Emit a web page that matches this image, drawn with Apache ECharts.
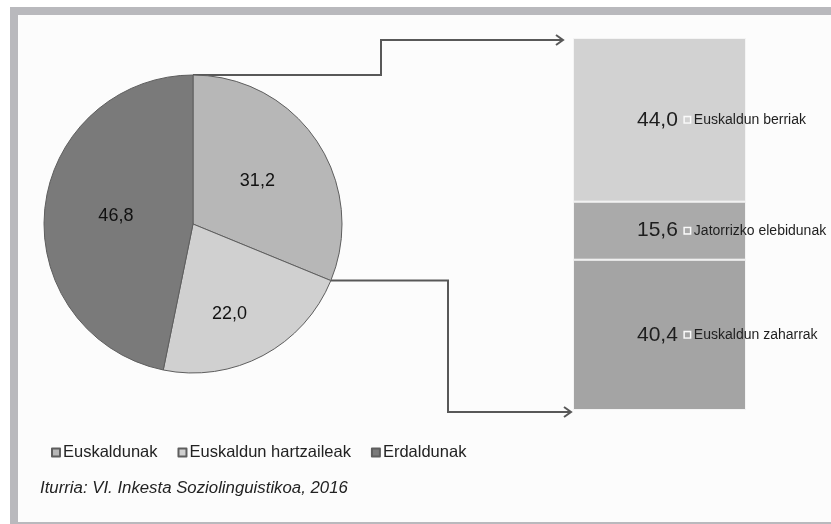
<!DOCTYPE html>
<html>
<head>
<meta charset="utf-8">
<script src="https://cdn.jsdelivr.net/npm/echarts@6/dist/echarts.min.js"></script>
<style>
  html, body { margin: 0; padding: 0; background: #fff; }
  #chart { width: 831px; height: 524px; }
</style>
</head>
<body>
<div id="chart"></div>
<script>
// pie: whole population
const pieNames = ['Euskaldunak', 'Euskaldun hartzaileak', 'Erdaldunak']
const pieValues = [31.2, 22.0, 46.8]
const pieColors = ['#b7b7b7', '#d0d0d0', '#7a7a7a']

// bar: breakdown of the Euskaldunak slice (bottom to top)
const barNames = ['Euskaldun zaharrak', 'Jatorrizko elebidunak', 'Euskaldun berriak']
const barValues = [40.4, 15.6, 44.0]
const barColors = ['#a4a4a4', '#aaaaaa', '#d2d2d2']

const sourceText = 'Iturria: VI. Inkesta Soziolinguistikoa, 2016'

const fmt = v => v.toFixed(1).replace('.', ',')
const FONT = '"Liberation Sans", Arial, sans-serif'

const cx = 193, cy = 224, r = 149
// point on the pie rim after a given share (clockwise from the top)
const rim = share => {
  const a = share / 100 * Math.PI * 2
  return [cx + r * Math.sin(a), cy - r * Math.cos(a)]
}
const topPt = rim(0)
const lowPt = rim(pieValues[0])

const lineStyle = { stroke: '#585858', lineWidth: 2, fill: null }
const arrow = (x, y) => ({
  type: 'polyline',
  shape: { points: [[x - 7, y - 5], [x, y], [x - 7, y + 5]] },
  style: lineStyle
})

// the small slice's label sits further out in the original: push it down with a spacer line
const pieLabelSpacer = [0, 44, 0]

const chart = echarts.init(document.getElementById('chart'))
chart.setOption({
  animation: false,
  backgroundColor: '#ffffff',
  graphic: [
    {
      type: 'rect', z: -10,
      shape: { x: 14, y: 11, width: 860, height: 515 },
      style: { fill: '#fcfcfc', stroke: '#b9b9bd', lineWidth: 8 }
    },
    {
      type: 'polyline',
      shape: { points: [topPt, [381, topPt[1]], [381, 40], [563, 40]] },
      style: lineStyle
    },
    arrow(563, 40),
    {
      type: 'polyline',
      shape: { points: [lowPt, [448, lowPt[1]], [448, 412], [571, 412]] },
      style: lineStyle
    },
    arrow(571, 412),
    {
      type: 'text', left: 40, top: 480,
      style: { text: sourceText, font: 'italic 16.8px ' + FONT, fill: '#222' }
    }
  ],
  legend: {
    data: pieNames,
    left: 46, top: 439,
    icon: 'rect', itemWidth: 8, itemHeight: 8, itemGap: 20,
    textStyle: { fontFamily: FONT, fontSize: 16.5, color: '#222', padding: [0, 0, 0, -2] }
  },
  grid: { left: 573, top: 38, width: 173, height: 372 },
  xAxis: { type: 'category', data: [''], show: false },
  yAxis: { type: 'value', min: 0, max: 100, show: false },
  series: [
    {
      type: 'pie',
      center: [cx, cy],
      radius: r,
      startAngle: 90,
      clockwise: true,
      data: pieNames.map((n, i) => ({
        name: n,
        value: pieValues[i],
        itemStyle: { color: pieColors[i] }
      })),
      itemStyle: { borderColor: '#5e5e5e', borderWidth: 1 },
      label: {
        position: 'inner',
        formatter: p => pieLabelSpacer[p.dataIndex]
          ? '{s|}\n{v|' + fmt(p.value) + '}'
          : '{v|' + fmt(p.value) + '}',
        rich: {
          s: { height: 44 },
          v: { fontFamily: FONT, fontSize: 18, color: '#111', height: 22 }
        }
      },
      labelLine: { show: false },
      emphasis: { disabled: true }
    },
    ...barNames.map((n, i) => ({
      type: 'bar',
      name: n,
      stack: 'eus',
      barWidth: '100%',
      data: [barValues[i]],
      itemStyle: { color: barColors[i], borderColor: '#f4f4f4', borderWidth: 1 },
      label: {
        show: true,
        position: [64, '50%'],
        verticalAlign: 'middle',
        formatter: '{v|' + fmt(barValues[i]) + '}{b|}{n|' + n + '}',
        rich: {
          v: { fontFamily: FONT, fontSize: 21, color: '#1e1e1e', padding: [0, 7, 0, 0] },
          b: { width: 5, height: 5, backgroundColor: barColors[i], borderColor: '#fafafa', borderWidth: 1.5 },
          n: { fontFamily: FONT, fontSize: 14, color: '#1e1e1e', padding: [0, 0, 0, 4] }
        }
      },
      emphasis: { disabled: true }
    }))
  ]
})
</script>
</body>
</html>
